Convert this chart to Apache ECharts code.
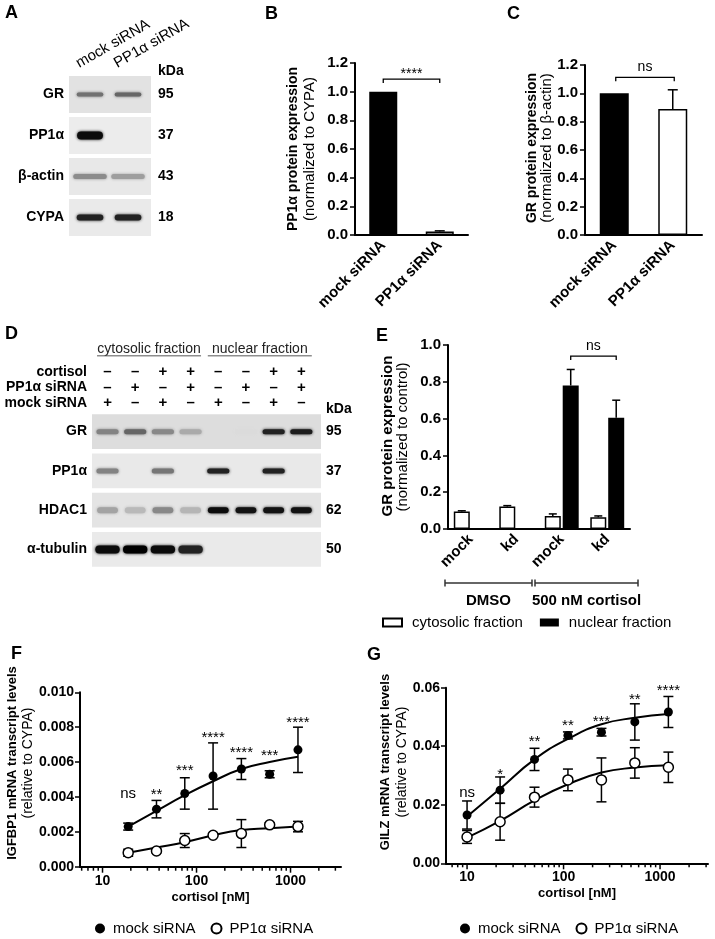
<!DOCTYPE html>
<html>
<head>
<meta charset="utf-8">
<title>PP1α / GR figure</title>
<script src="https://cdn.jsdelivr.net/npm/echarts@6.0.0/dist/echarts.min.js"></script>
<style>
html,body{margin:0;padding:0;background:#fff;}
#chart{width:715px;height:939px;}
</style>
</head>
<body>
<div id="chart"></div>
<script>
const FF = '"Liberation Sans", Arial, Helvetica, sans-serif';

// ================= DATA =================
// Panel A – western blot, band intensity (0..1) per lane
const aLanes = ['mock siRNA', 'PP1α siRNA'];
const aRows = ['GR', 'PP1α', 'β-actin', 'CYPA'];
const aKDa = ['95', '37', '43', '18'];
const aBandGR = [0.50, 0.55];
const aBandPP1a = [0.95, 0.0];
const aBandActin = [0.38, 0.30];
const aBandCYPA = [0.85, 0.85];

// Panel B
const bCats = ['mock siRNA', 'PP1α siRNA'];
const bMean = [1.0, 0.025];
const bSEM = [0.0, 0.004];
const bSigText = '****';
const bSigLevel = 1.088;

// Panel C
const cCats = ['mock siRNA', 'PP1α siRNA'];
const cMean = [1.0, 0.89];
const cSEM = [0.0, 0.135];
const cSigText = 'ns';
const cSigLevel = 1.113;

// Panel D – fractionation blot
const dHeaders = ['cytosolic fraction', 'nuclear fraction'];
const dTreatRows = ['cortisol', 'PP1α siRNA', 'mock siRNA'];
const dCortisol = [0, 0, 1, 1, 0, 0, 1, 1];
const dPP1aSi = [0, 1, 0, 1, 0, 1, 0, 1];
const dMockSi = [1, 0, 1, 0, 1, 0, 1, 0];
const dRows = ['GR', 'PP1α', 'HDAC1', 'α-tubulin'];
const dKDa = ['95', '37', '62', '50'];
const dBandGR = [0.42, 0.55, 0.40, 0.25, 0.0, 0.03, 0.85, 0.87];
const dBandPP1a = [0.42, 0.0, 0.48, 0.0, 0.85, 0.0, 0.85, 0.0];
const dBandHDAC1 = [0.28, 0.18, 0.40, 0.20, 0.95, 0.92, 0.92, 0.92];
const dBandTubulin = [0.95, 1.0, 0.95, 0.85, 0.0, 0.0, 0.0, 0.0];

// Panel E
const eCats = ['mock', 'kd', 'mock', 'kd'];
const eGroups = ['DMSO', '500 nM cortisol'];
const eCyto = [0.095, 0.122, 0.070, 0.064];
const eCytoSEM = [0.004, 0.005, 0.012, 0.007];
const eNuc = [0, 0, 0.780, 0.605];
const eNucSEM = [0, 0, 0.087, 0.095];
const eSigText = 'ns';
const eSigLevel = 0.94;

// Panel F – IGFBP1
const fDose = [18.75, 37.5, 75, 150, 300, 600, 1200];
const fMock = [0.0023, 0.0033, 0.0042, 0.0052, 0.0056, 0.0053, 0.0067];
const fMockSEM = [0.0002, 0.0005, 0.0009, 0.0019, 0.0006, 0.0002, 0.0013];
const fKd = [0.0008, 0.0009, 0.0015, 0.0018, 0.0019, 0.0024, 0.0023];
const fKdSEM = [0.0002, 0.0001, 0.0004, 0.0001, 0.0008, 0.0001, 0.0003];
const fMockFit = [0.0023, 0.0032, 0.0041, 0.0049, 0.0056, 0.0060, 0.0063];
const fKdFit = [0.0008, 0.0011, 0.0014, 0.0018, 0.0021, 0.0022, 0.0023];
const fSig = ['ns', '**', '***', '****', '****', '***', '****'];
const fSigY = [0.0041, 0.0043, 0.00566, 0.00755, 0.00669, 0.00652, 0.0084];

// Panel G – GILZ
const gDose = [10, 22, 50, 111, 247, 548, 1220];
const gMock = [0.0165, 0.0250, 0.0355, 0.0437, 0.0448, 0.0483, 0.0517];
const gMockSEM = [0.0048, 0.0045, 0.0038, 0.0012, 0.0013, 0.0062, 0.0053];
const gKd = [0.0090, 0.0142, 0.0226, 0.0285, 0.0285, 0.0343, 0.0328];
const gKdSEM = [0.0022, 0.0063, 0.0034, 0.0037, 0.0075, 0.0052, 0.0052];
const gMockFit = [0.0160, 0.0255, 0.0355, 0.0425, 0.0475, 0.0497, 0.0510];
const gKdFit = [0.0088, 0.0145, 0.0215, 0.0270, 0.0310, 0.0327, 0.0335];
const gSig = ['ns', '*', '**', '**', '***', '**', '****'];
const gSigY = [0.0237, 0.0312, 0.0425, 0.0479, 0.0492, 0.0570, 0.0598];

const logMajor = [10, 100, 1000];
const logMinor = [6, 7, 8, 9, 20, 30, 40, 50, 60, 70, 80, 90, 200, 300, 400, 500, 600, 700, 800, 900, 2000, 3000];

// ================= LAYOUT / STYLE =================
const F_MIN = 5.76, F_MAX = 3443;
const G_MIN = 6.05, G_MAX = 3140;
const lbl = (fs, bold = true) => ({ color: '#000', fontSize: fs, fontWeight: bold ? 'bold' : 'normal', fontFamily: FF });

function hiddenVal(grid, min, max) { return { type: 'value', gridIndex: grid, min, max, show: false }; }
function rowAxis(grid, data, pos, margin) {
  return {
    type: 'category', gridIndex: grid, data, inverse: true, position: pos,
    axisLine: { show: false }, axisTick: { show: false }, splitLine: { show: false },
    axisLabel: Object.assign(lbl(14), { margin, interval: 0 })
  };
}
function valAxis(grid, max, interval, dec, fs, margin) {
  return {
    type: 'value', gridIndex: grid, min: 0, max, interval,
    axisLine: { show: true, onZero: false, lineStyle: { color: '#000', width: 2 } },
    axisTick: { show: true, length: 5, lineStyle: { color: '#000', width: 1.5 } },
    splitLine: { show: false },
    axisLabel: Object.assign(lbl(fs), { margin, formatter: v => v.toFixed(dec) })
  };
}
function catAxis(grid, data, fs, margin) {
  return {
    type: 'category', gridIndex: grid, data,
    axisLine: { onZero: false, lineStyle: { color: '#000', width: 2 } },
    axisTick: { show: false }, splitLine: { show: false },
    axisLabel: Object.assign(lbl(fs), { rotate: 45, margin, interval: 0 })
  };
}
function logAxis(grid, min, max) {
  return {
    type: 'log', logBase: 10, gridIndex: grid, min, max,
    axisLine: { onZero: false, lineStyle: { color: '#000', width: 2 } },
    axisTick: { show: false }, splitLine: { show: false },
    minorTick: { show: false }, minorSplitLine: { show: false },
    axisLabel: Object.assign(lbl(14), { margin: 7, showMinLabel: false, showMaxLabel: false, formatter: v => String(Math.round(v)) }),
    name: 'cortisol [nM]', nameLocation: 'middle', nameGap: 24,
    nameTextStyle: lbl(13)
  };
}

function blotBg(colors, frac) {
  return (p, api) => {
    const c = api.coord([0, api.value(1)]);
    const h = api.size([1, 1])[1] * frac;
    const cs = p.coordSys;
    return { type: 'rect', shape: { x: cs.x, y: c[1] - h / 2, width: cs.width, height: h }, style: { fill: colors[p.dataIndex] } };
  };
}
function blotBands(thick, wFrac) {
  return (p, api) => {
    const lane = api.value(0), row = api.value(1), v = api.value(2);
    if (!(v > 0)) return null;
    const c = api.coord([lane, row]);
    const pitch = api.size([1, 1])[0];
    const w = pitch * wFrac[row], h = thick[row];
    const g = Math.round(226 * (1 - v));
    const col = 'rgb(' + g + ',' + g + ',' + g + ')';
    return { type: 'rect', shape: { x: c[0] - w / 2, y: c[1] - h / 2, width: w, height: h, r: h / 2 }, style: { fill: col, shadowBlur: 3, shadowColor: col } };
  };
}
function errBar(xOff, cap, both) {
  return (p, api) => {
    const x = api.value(0), v = api.value(1), e = api.value(2);
    if (!(e > 0)) return null;
    const t = api.coord([x, v + e]);
    const b = api.coord([x, both ? v - e : v]);
    const cx = t[0] + xOff;
    const st = { stroke: '#000', lineWidth: 1.5 };
    const ch = [
      { type: 'line', shape: { x1: cx, y1: b[1], x2: cx, y2: t[1] }, style: st },
      { type: 'line', shape: { x1: cx - cap, y1: t[1], x2: cx + cap, y2: t[1] }, style: st }
    ];
    if (both) ch.push({ type: 'line', shape: { x1: cx - cap, y1: b[1], x2: cx + cap, y2: b[1] }, style: st });
    return { type: 'group', children: ch };
  };
}
function sigText(text, x, y, fs) {
  const star = text.charAt(0) === '*';
  return { type: 'text', x, y: y + (star ? 3 : -1), style: { text, fontSize: fs, fontFamily: FF, fill: '#000', align: 'center', verticalAlign: 'middle' } };
}
function bracket(text, off0, off1) {
  return (p, api) => {
    const a = api.coord([api.value(0), api.value(2)]);
    const b = api.coord([api.value(1), api.value(2)]);
    const x1 = a[0] + off0, x2 = b[0] + off1, y = a[1];
    const st = { stroke: '#000', lineWidth: 1.3, fill: null };
    return {
      type: 'group', children: [
        { type: 'polyline', shape: { points: [[x1, y + 4], [x1, y], [x2, y], [x2, y + 4]] }, style: st },
        sigText(text, (x1 + x2) / 2, y - (text.charAt(0) === '*' ? 7.5 : 9), 14)
      ]
    };
  };
}
function sigSeries(xi, yi, doses, ys, texts) {
  return {
    type: 'custom', xAxisIndex: xi, yAxisIndex: yi, silent: true, z: 6,
    data: doses.map((d, i) => [d, ys[i]]),
    renderItem: (p, api) => { const c = api.coord([api.value(0), api.value(1)]); return sigText(texts[p.dataIndex], c[0], c[1], 15); }
  };
}
function tickSeries(xi, yi, vals, len, min, max) {
  return {
    type: 'custom', xAxisIndex: xi, yAxisIndex: yi, silent: true,
    data: vals.filter(v => v >= min && v <= max).map(v => [v, 0]),
    renderItem: (p, api) => { const c = api.coord([api.value(0), 0]); return { type: 'line', shape: { x1: c[0], y1: c[1], x2: c[0], y2: c[1] + len }, style: { stroke: '#000', lineWidth: 1.5 } }; }
  };
}
function doseSeries(xi, yi, doses, mean, sem, fit, name, open) {
  return [
    { type: 'line', xAxisIndex: xi, yAxisIndex: yi, data: doses.map((d, i) => [d, fit[i]]), smooth: true, showSymbol: false, symbol: 'none', lineStyle: { color: '#000', width: 2 }, silent: true, z: 2 },
    { type: 'custom', xAxisIndex: xi, yAxisIndex: yi, data: doses.map((d, i) => [d, mean[i], sem[i]]), renderItem: errBar(0, 5, true), silent: true, z: 3 },
    { type: 'scatter', name, xAxisIndex: xi, yAxisIndex: yi, data: doses.map((d, i) => [d, mean[i]]), symbol: 'circle', symbolSize: open ? 10 : 9,
      itemStyle: open ? { color: '#fff', borderColor: '#000', borderWidth: 1.5, opacity: 1 } : { color: '#000', opacity: 1 }, z: 5 }
  ];
}

// ================= SERIES =================
const series = [];
// A
series.push({ type: 'custom', xAxisIndex: 0, yAxisIndex: 0, silent: true, data: aRows.map((r, i) => [0, i]), renderItem: blotBg(['#e2e2e2', '#ececec', '#e8e8e8', '#eaeaea'], 0.9) });
series.push({ type: 'custom', xAxisIndex: 0, yAxisIndex: 0, silent: true, z: 3,
  data: [aBandGR, aBandPP1a, aBandActin, aBandCYPA].flatMap((row, r) => row.map((v, l) => [l, r, v])),
  renderItem: blotBands([4, 8, 5, 6], [0.7, 0.68, 0.88, 0.7]) });
series.push({ type: 'custom', xAxisIndex: 0, yAxisIndex: 0, silent: true, data: aLanes.map((n, l) => [l, 0]),
  renderItem: (p, api) => {
    const c = api.coord([api.value(0), 0]);
    return { type: 'text', x: c[0] - 9, y: p.coordSys.y - 3, rotation: Math.PI / 6,
      style: { text: aLanes[p.dataIndex], fontSize: 15, fontFamily: FF, fill: '#000', align: 'left', verticalAlign: 'bottom' } };
  } });
// B
series.push({ type: 'bar', xAxisIndex: 1, yAxisIndex: 1, barWidth: 28,
  data: bMean.map((v, i) => ({ value: v, itemStyle: { color: i === 0 ? '#000' : '#fff' } })),
  itemStyle: { borderColor: '#000', borderWidth: 1.5 } });
series.push({ type: 'custom', xAxisIndex: 1, yAxisIndex: 1, silent: true, z: 3, data: bMean.map((v, i) => [i, v, bSEM[i]]), renderItem: errBar(0, 5, false) });
series.push({ type: 'custom', xAxisIndex: 1, yAxisIndex: 1, silent: true, z: 3, data: [[0, 1, bSigLevel]], renderItem: bracket(bSigText, 0, 0) });
// C
series.push({ type: 'bar', xAxisIndex: 2, yAxisIndex: 2, barWidth: 29,
  data: cMean.map((v, i) => ({ value: v, itemStyle: { color: i === 0 ? '#000' : '#fff' } })),
  itemStyle: { borderColor: '#000', borderWidth: 1.5 } });
series.push({ type: 'custom', xAxisIndex: 2, yAxisIndex: 2, silent: true, z: 3, data: cMean.map((v, i) => [i, v, cSEM[i]]), renderItem: errBar(0, 5, false) });
series.push({ type: 'custom', xAxisIndex: 2, yAxisIndex: 2, silent: true, z: 3, data: [[0, 1, cSigLevel]], renderItem: bracket(cSigText, 1.5, 1.5) });
// D treatments (+ / –)
const dTreat = [dCortisol, dPP1aSi, dMockSi];
series.push({ type: 'custom', xAxisIndex: 3, yAxisIndex: 3, silent: true,
  data: dTreat.flatMap((row, r) => row.map((v, l) => [l, r, v])),
  renderItem: (p, api) => {
    const c = api.coord([api.value(0), api.value(1)]);
    return { type: 'text', x: c[0], y: c[1], style: { text: api.value(2) ? '+' : '–', fontSize: 15, fontWeight: 'bold', fontFamily: FF, fill: '#000', align: 'center', verticalAlign: 'middle' } };
  } });
series.push({ type: 'custom', xAxisIndex: 3, yAxisIndex: 3, silent: true, data: [[0, 3], [4, 7]],
  renderItem: (p, api) => {
    const a = api.coord([api.value(0), 0]), b = api.coord([api.value(1), 0]);
    const cx = (a[0] + b[0]) / 2, y = a[1] - 23;
    return { type: 'group', children: [
      { type: 'text', x: cx, y, style: { text: dHeaders[p.dataIndex], fontSize: 14, fontFamily: FF, fill: '#222', align: 'center', verticalAlign: 'middle' } },
      { type: 'line', shape: { x1: cx - 52, y1: y + 7, x2: cx + 52, y2: y + 7 }, style: { stroke: '#555', lineWidth: 1 } }
    ] };
  } });
// D blot
series.push({ type: 'custom', xAxisIndex: 4, yAxisIndex: 4, silent: true, data: dRows.map((r, i) => [0, i]), renderItem: blotBg(['#dddddd', '#e9e9e9', '#e4e4e4', '#eaeaea'], 0.89) });
series.push({ type: 'custom', xAxisIndex: 4, yAxisIndex: 4, silent: true, z: 3,
  data: [dBandGR, dBandPP1a, dBandHDAC1, dBandTubulin].flatMap((row, r) => row.map((v, l) => [l, r, v])),
  renderItem: blotBands([5, 5, 6, 8], [0.8, 0.8, 0.75, 0.88]) });
// E
const E_OFF = 8.96;
series.push({ type: 'bar', name: 'cytosolic fraction', xAxisIndex: 5, yAxisIndex: 5, barWidth: 16, barGap: '12%', data: eCyto,
  itemStyle: { color: '#fff', borderColor: '#000', borderWidth: 1.5 } });
series.push({ type: 'bar', name: 'nuclear fraction', xAxisIndex: 5, yAxisIndex: 5, barWidth: 16, barGap: '12%', data: eNuc,
  itemStyle: { color: '#000' } });
series.push({ type: 'custom', xAxisIndex: 5, yAxisIndex: 5, silent: true, z: 3, data: eCyto.map((v, i) => [i, v, eCytoSEM[i]]), renderItem: errBar(-E_OFF, 4, false) });
series.push({ type: 'custom', xAxisIndex: 5, yAxisIndex: 5, silent: true, z: 3, data: eNuc.map((v, i) => [i, v, eNucSEM[i]]), renderItem: errBar(E_OFF, 4, false) });
series.push({ type: 'custom', xAxisIndex: 5, yAxisIndex: 5, silent: true, z: 3, data: [[2, 3, eSigLevel]], renderItem: bracket(eSigText, E_OFF, E_OFF) });
const eGroupSpan = [[-0.566, 1.346], [1.412, 3.676]];
series.push({ type: 'custom', xAxisIndex: 5, yAxisIndex: 5, silent: true, data: eGroups.map((g, i) => [i, 0]),
  renderItem: (p, api) => {
    const o = api.coord([0, 0]), bw = api.size([1, 0])[0];
    const s = eGroupSpan[p.dataIndex];
    const x1 = o[0] + s[0] * bw, x2 = o[0] + s[1] * bw;
    const y = p.coordSys.y + p.coordSys.height + 54;
    const st = { stroke: '#333', lineWidth: 1.5 };
    return { type: 'group', children: [
      { type: 'line', shape: { x1, y1: y, x2, y2: y }, style: st },
      { type: 'line', shape: { x1, y1: y - 3.5, x2: x1, y2: y + 3.5 }, style: st },
      { type: 'line', shape: { x1: x2, y1: y - 3.5, x2, y2: y + 3.5 }, style: st },
      { type: 'text', x: (x1 + x2) / 2, y: y + 18, style: { text: eGroups[p.dataIndex], fontSize: 15, fontWeight: 'bold', fontFamily: FF, fill: '#000', align: 'center', verticalAlign: 'middle' } }
    ] };
  } });
// F
series.push(tickSeries(6, 6, logMinor, 4, F_MIN, F_MAX));
series.push(tickSeries(6, 6, logMajor, 6, F_MIN, F_MAX));
series.push(...doseSeries(6, 6, fDose, fMock, fMockSEM, fMockFit, 'mock siRNA', false));
series.push(...doseSeries(6, 6, fDose, fKd, fKdSEM, fKdFit, 'PP1α siRNA', true));
series.push(sigSeries(6, 6, fDose, fSigY, fSig));
// G
series.push(tickSeries(7, 7, logMinor, 4, G_MIN, G_MAX));
series.push(tickSeries(7, 7, logMajor, 6, G_MIN, G_MAX));
series.push(...doseSeries(7, 7, gDose, gMock, gMockSEM, gMockFit, 'mock siRNA', false));
series.push(...doseSeries(7, 7, gDose, gKd, gKdSEM, gKdFit, 'PP1α siRNA', true));
series.push(sigSeries(7, 7, gDose, gSigY, gSig));

// ================= GRAPHIC TEXT =================
function letter(t, x, y) { return { type: 'text', x, y, style: { text: t, fontSize: 18, fontWeight: 'bold', fontFamily: FF, fill: '#000', align: 'left', verticalAlign: 'top' } }; }
function vTitle(t, x, y, fs, bold) { return { type: 'text', x, y, rotation: Math.PI / 2, style: { text: t, fontSize: fs, fontWeight: bold ? 'bold' : 'normal', fontFamily: FF, fill: '#000', align: 'center', verticalAlign: 'middle' } }; }
function plain(t, x, y, fs, bold) { return { type: 'text', x, y, style: { text: t, fontSize: fs, fontWeight: bold ? 'bold' : 'normal', fontFamily: FF, fill: '#000', align: 'left', verticalAlign: 'middle' } }; }

const graphics = [
  letter('A', 5, 4), letter('B', 265, 5), letter('C', 507, 5), letter('D', 5, 325),
  letter('E', 376, 327), letter('F', 11, 645), letter('G', 367, 646),
  plain('kDa', 158, 71, 14, true), plain('kDa', 326, 409, 14, true),
  vTitle('PP1α protein expression', 293, 149, 14, true), vTitle('(normalized to CYPA)', 310, 149, 15, false),
  vTitle('GR protein expression', 532, 148, 14, true), vTitle('(normalized to β-actin)', 547, 148, 15, false),
  vTitle('GR protein expression', 388, 436, 15, true), vTitle('(normalized to control)', 403, 437, 15, false),
  vTitle('IGFBP1 mRNA transcript levels', 12, 763, 13, true), vTitle('(relative to CYPA)', 28, 763, 14, false),
  vTitle('GILZ mRNA transcript levels', 385, 762, 13, true), vTitle('(relative to CYPA)', 402, 762, 14, false)
];

const option = {
  animation: false,
  backgroundColor: '#fff',
  textStyle: { fontFamily: FF, color: '#000' },
  grid: [
    { left: 69, top: 74, width: 82, height: 164 },
    { left: 355, top: 63, width: 113, height: 172 },
    { left: 585, top: 65, width: 117, height: 170 },
    { left: 92, top: 364, width: 229, height: 47 },
    { left: 92, top: 412, width: 229, height: 157 },
    { left: 448, top: 345, width: 182, height: 184 },
    { left: 80, top: 692.3, width: 261, height: 174.4 },
    { left: 446, top: 687.7, width: 262, height: 175.6 }
  ],
  xAxis: [
    hiddenVal(0, -0.553, 1.605),
    catAxis(1, bCats, 15, 8),
    catAxis(2, cCats, 15, 8),
    hiddenVal(3, -0.56, 7.71),
    hiddenVal(4, -0.56, 7.71),
    catAxis(5, eCats, 15, 8),
    logAxis(6, F_MIN, F_MAX),
    logAxis(7, G_MIN, G_MAX)
  ],
  yAxis: [
    rowAxis(0, aRows, 'left', 5),
    valAxis(1, 1.2, 0.2, 1, 15, 7),
    valAxis(2, 1.2, 0.2, 1, 15, 7),
    rowAxis(3, dTreatRows, 'left', 5),
    rowAxis(4, dRows, 'left', 5),
    valAxis(5, 1.0, 0.2, 1, 15, 7),
    valAxis(6, 0.010, 0.002, 3, 14, 6),
    valAxis(7, 0.06, 0.02, 2, 14, 6),
    rowAxis(0, aKDa, 'right', 7),
    rowAxis(4, dKDa, 'right', 5)
  ],
  legend: [
    { left: 382, top: 615, padding: 0, itemWidth: 19, itemHeight: 8, itemGap: 17, icon: 'rect', selectedMode: false,
      data: ['cytosolic fraction', 'nuclear fraction'], textStyle: { fontSize: 15, color: '#000', padding: [0, 0, 0, 5] } },
    { left: 95, top: 921, padding: 0, itemWidth: 10, itemHeight: 10, itemGap: 15, icon: 'circle', selectedMode: false,
      data: ['mock siRNA', 'PP1α siRNA'], textStyle: { fontSize: 15, color: '#000', padding: [0, 0, 0, 3] } },
    { left: 460, top: 921, padding: 0, itemWidth: 10, itemHeight: 10, itemGap: 15, icon: 'circle', selectedMode: false,
      data: ['mock siRNA', 'PP1α siRNA'], textStyle: { fontSize: 15, color: '#000', padding: [0, 0, 0, 3] } }
  ],
  series,
  graphic: { elements: graphics }
};

const chart = echarts.init(document.getElementById('chart'), null, { renderer: 'canvas' });
chart.setOption(option);
</script>
</body>
</html>
